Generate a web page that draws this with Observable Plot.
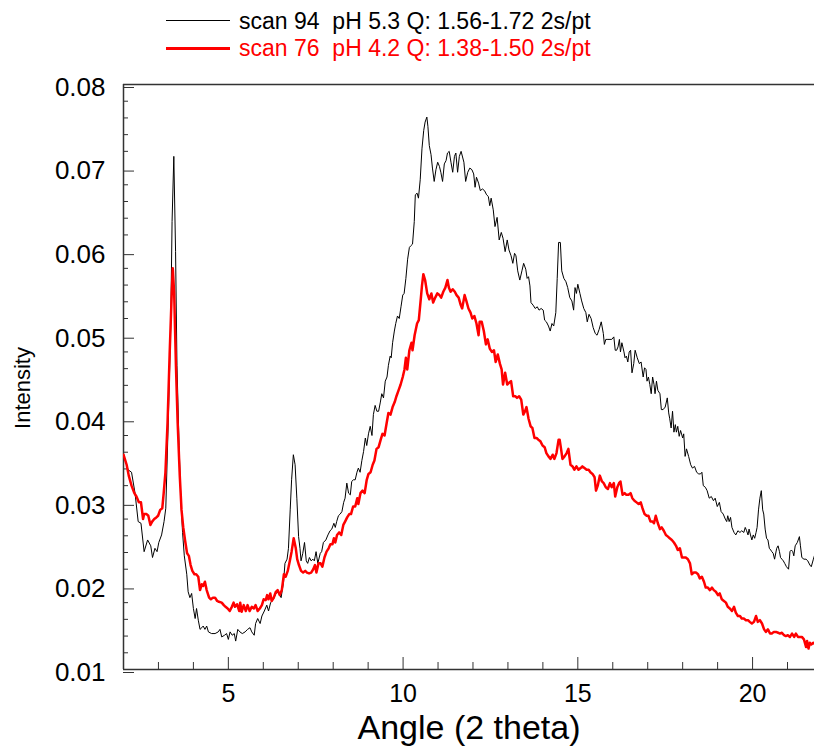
<!DOCTYPE html>
<html>
<head>
<meta charset="utf-8">
<script src="https://cdn.jsdelivr.net/npm/d3@7"></script>
<script src="https://cdn.jsdelivr.net/npm/@observablehq/plot@0.6"></script>
<style>
  html, body { margin: 0; padding: 0; background: #fff; overflow: hidden; }
  #wrap { position: relative; width: 814px; height: 747px; overflow: hidden; font-family: Arial, "Liberation Sans", sans-serif; }
  #legend { position: relative; width: 814px; height: 60px; }
  #chart { width: 830px; }
  #chart svg { display: block; max-width: none !important; width: 830px !important; height: 687px !important; }
  .sw { position: absolute; left: 166px; width: 64px; }
  .lt { position: absolute; left: 239px; font-size: 23px; line-height: 23px; white-space: pre; }
</style>
</head>
<body>
<div id="wrap">
  <div id="legend"></div>
  <div id="chart"></div>
</div>
<script>
// ---- Series labels / colours ----
const seriesNames = ["scan 94  pH 5.3 Q: 1.56-1.72 2s/pt", "scan 76  pH 4.2 Q: 1.38-1.50 2s/pt"];
const seriesColors = ["#000000", "#ff0000"];

// ---- Axis ticks ----
const xMajorTicks = [5, 10, 15, 20];
const xMinorTicks = [3, 4, 6, 7, 8, 9, 11, 12, 13, 14, 16, 17, 18, 19, 21];
const yMajorTicks = [0.01, 0.02, 0.03, 0.04, 0.05, 0.06, 0.07, 0.08];
const yMinorTicks = [0.012, 0.014, 0.016, 0.018, 0.022, 0.024, 0.026, 0.028, 0.032, 0.034, 0.036, 0.038,
  0.042, 0.044, 0.046, 0.048, 0.052, 0.054, 0.056, 0.058, 0.062, 0.064, 0.066, 0.068, 0.072, 0.074, 0.076, 0.078];
const xDomain = [2, 22.23];
const yDomain = [0.01, 0.08];

// ---- scan 94 (black) ----
const angle94 = [2.0, 2.13, 2.23, 2.33, 2.42, 2.50, 2.59, 2.69, 2.78, 2.83, 2.90, 2.96, 3.01, 3.09, 3.16, 3.21, 3.28, 3.35, 3.39, 3.44,
  3.49, 3.53, 3.59, 3.64, 3.69, 3.74, 3.81, 3.85, 3.90, 3.95, 4.00, 4.05, 4.09, 4.14, 4.19, 4.24, 4.28, 4.33, 4.38, 4.43,
  4.52, 4.62, 4.71, 4.76, 4.81, 4.89, 4.95, 5.00, 5.05, 5.11, 5.17, 5.21, 5.27, 5.33, 5.40, 5.48, 5.55, 5.62, 5.67, 5.74,
  5.78, 5.84, 5.91, 5.96, 6.03, 6.10, 6.15, 6.21, 6.29, 6.36, 6.43, 6.51, 6.58, 6.62, 6.68, 6.72, 6.77, 6.81, 6.86, 6.91,
  6.96, 7.01, 7.05, 7.08, 7.13, 7.18, 7.23, 7.27, 7.32, 7.37, 7.42, 7.46, 7.51, 7.56, 7.63, 7.67, 7.72, 7.79, 7.85, 7.91,
  7.96, 8.02, 8.06, 8.10, 8.15, 8.20, 8.25, 8.30, 8.34, 8.39, 8.44, 8.49, 8.53, 8.58, 8.63, 8.68, 8.72, 8.77, 8.82, 8.87,
  8.92, 8.96, 9.01, 9.06, 9.11, 9.15, 9.20, 9.25, 9.30, 9.35, 9.39, 9.44, 9.49, 9.54, 9.58, 9.63, 9.66, 9.70, 9.75, 9.79,
  9.84, 9.89, 9.94, 9.99, 10.03, 10.08, 10.13, 10.18, 10.22, 10.27, 10.32, 10.35, 10.40, 10.44, 10.49, 10.54, 10.59, 10.63, 10.68, 10.71,
  10.75, 10.80, 10.84, 10.89, 10.94, 10.99, 11.04, 11.08, 11.13, 11.18, 11.23, 11.27, 11.32, 11.37, 11.42, 11.47, 11.51, 11.56, 11.61,
  11.66, 11.74, 11.79, 11.85, 11.91, 11.97, 12.02, 12.06, 12.10, 12.16, 12.21, 12.27, 12.33, 12.39, 12.44, 12.48, 12.52, 12.58, 12.63,
  12.69, 12.75, 12.81, 12.86, 12.92, 12.98, 13.03, 13.09, 13.14, 13.19, 13.23, 13.28, 13.34, 13.40, 13.45, 13.51, 13.55, 13.59, 13.63,
  13.66, 13.72, 13.78, 13.84, 13.89, 13.95, 14.01, 14.05, 14.10, 14.16, 14.21, 14.26, 14.31, 14.37, 14.41, 14.45, 14.50, 14.54, 14.60,
  14.66, 14.71, 14.77, 14.83, 14.88, 14.92, 14.96, 15.00, 15.06, 15.11, 15.17, 15.23, 15.27, 15.32, 15.38, 15.44, 15.50, 15.55, 15.61,
  15.67, 15.73, 15.76, 15.80, 15.86, 15.92, 15.97, 16.03, 16.07, 16.11, 16.15, 16.19, 16.22, 16.26, 16.32, 16.35, 16.39, 16.43, 16.47,
  16.51, 16.55, 16.60, 16.64, 16.70, 16.76, 16.81, 16.87, 16.91, 16.95, 16.98, 17.02, 17.06, 17.10, 17.14, 17.18, 17.21, 17.25, 17.29,
  17.35, 17.39, 17.44, 17.50, 17.56, 17.60, 17.63, 17.67, 17.71, 17.75, 17.79, 17.82, 17.86, 17.90, 17.94, 18.00, 18.03, 18.07, 18.11,
  18.17, 18.23, 18.28, 18.34, 18.40, 18.46, 18.51, 18.55, 18.59, 18.65, 18.70, 18.76, 18.82, 18.88, 18.93, 18.99, 19.05, 19.10, 19.16,
  19.22, 19.26, 19.29, 19.33, 19.37, 19.41, 19.47, 19.52, 19.58, 19.64, 19.69, 19.75, 19.79, 19.83, 19.87, 19.90, 19.94, 19.98, 20.02,
  20.06, 20.10, 20.13, 20.17, 20.21, 20.25, 20.29, 20.32, 20.36, 20.40, 20.44, 20.48, 20.52, 20.55, 20.59, 20.63, 20.69, 20.73, 20.77,
  20.80, 20.84, 20.88, 20.92, 20.97, 21.03, 21.07, 21.11, 21.15, 21.18, 21.22, 21.28, 21.34, 21.37, 21.41, 21.47, 21.53, 21.58, 21.64,
  21.68, 21.74, 21.79];
const intensity94 = [0.0357, 0.0339, 0.0336, 0.0311, 0.0277, 0.0275, 0.0241, 0.0255, 0.0248, 0.0234, 0.0245, 0.0241, 0.0252, 0.0261, 0.0277, 0.0293, 0.0395, 0.0509, 0.0636, 0.0714,
  0.0600, 0.0464, 0.0368, 0.0305, 0.0264, 0.0236, 0.0214, 0.0193, 0.0186, 0.0191, 0.0173, 0.0161, 0.0173, 0.0159, 0.0148, 0.0150, 0.0152, 0.0148, 0.0152, 0.0145,
  0.0143, 0.0143, 0.0145, 0.0148, 0.0139, 0.0141, 0.0143, 0.0136, 0.0145, 0.0141, 0.0143, 0.0134, 0.0148, 0.0145, 0.0143, 0.0145, 0.0148, 0.0150, 0.0145, 0.0141,
  0.0155, 0.0161, 0.0155, 0.0164, 0.0170, 0.0177, 0.0170, 0.0180, 0.0184, 0.0191, 0.0193, 0.0186, 0.0205, 0.0227, 0.0232, 0.0245, 0.0291, 0.0327, 0.0357, 0.0345,
  0.0305, 0.0259, 0.0245, 0.0230, 0.0239, 0.0252, 0.0230, 0.0227, 0.0234, 0.0230, 0.0232, 0.0230, 0.0241, 0.0227, 0.0239, 0.0241, 0.0252, 0.0255, 0.0261, 0.0266,
  0.0268, 0.0275, 0.0270, 0.0277, 0.0284, 0.0286, 0.0289, 0.0300, 0.0305, 0.0323, 0.0311, 0.0309, 0.0325, 0.0327, 0.0327, 0.0336, 0.0341, 0.0336, 0.0350, 0.0361,
  0.0377, 0.0368, 0.0382, 0.0391, 0.0380, 0.0405, 0.0416, 0.0409, 0.0409, 0.0420, 0.0430, 0.0425, 0.0445, 0.0450, 0.0464, 0.0475, 0.0473, 0.0491, 0.0505, 0.0514,
  0.0523, 0.0520, 0.0534, 0.0548, 0.0550, 0.0568, 0.0591, 0.0605, 0.0607, 0.0609, 0.0636, 0.0668, 0.0670, 0.0664, 0.0686, 0.0723, 0.0745, 0.0755, 0.0761, 0.0750,
  0.0727, 0.0716, 0.0700, 0.0684, 0.0698, 0.0707, 0.0702, 0.0695, 0.0684, 0.0705, 0.0709, 0.0718, 0.0720, 0.0707, 0.0695, 0.0714, 0.0718, 0.0695, 0.0714,
  0.0720, 0.0707, 0.0684, 0.0695, 0.0700, 0.0698, 0.0693, 0.0677, 0.0689, 0.0682, 0.0673, 0.0675, 0.0673, 0.0668, 0.0666, 0.0655, 0.0664, 0.0650, 0.0630,
  0.0641, 0.0614, 0.0623, 0.0616, 0.0600, 0.0614, 0.0602, 0.0595, 0.0586, 0.0598, 0.0595, 0.0577, 0.0566, 0.0577, 0.0586, 0.0579, 0.0568, 0.0570, 0.0559,
  0.0539, 0.0536, 0.0532, 0.0534, 0.0530, 0.0532, 0.0530, 0.0518, 0.0516, 0.0511, 0.0505, 0.0514, 0.0511, 0.0527, 0.0568, 0.0611, 0.0611, 0.0577, 0.0568,
  0.0564, 0.0557, 0.0545, 0.0541, 0.0530, 0.0557, 0.0550, 0.0561, 0.0550, 0.0541, 0.0532, 0.0527, 0.0516, 0.0525, 0.0520, 0.0509, 0.0502, 0.0500, 0.0507,
  0.0516, 0.0502, 0.0489, 0.0495, 0.0495, 0.0495, 0.0495, 0.0498, 0.0482, 0.0482, 0.0486, 0.0495, 0.0480, 0.0491, 0.0480, 0.0473, 0.0475, 0.0468, 0.0480,
  0.0482, 0.0455, 0.0466, 0.0482, 0.0473, 0.0466, 0.0468, 0.0450, 0.0461, 0.0459, 0.0445, 0.0450, 0.0441, 0.0430, 0.0450, 0.0441, 0.0430, 0.0445, 0.0434,
  0.0430, 0.0411, 0.0411, 0.0414, 0.0425, 0.0407, 0.0400, 0.0389, 0.0409, 0.0384, 0.0393, 0.0384, 0.0391, 0.0379, 0.0386, 0.0377, 0.0382, 0.0355, 0.0364,
  0.0355, 0.0345, 0.0341, 0.0343, 0.0336, 0.0334, 0.0334, 0.0336, 0.0320, 0.0318, 0.0314, 0.0305, 0.0307, 0.0302, 0.0305, 0.0295, 0.0300, 0.0289, 0.0286,
  0.0280, 0.0277, 0.0284, 0.0277, 0.0282, 0.0270, 0.0264, 0.0261, 0.0266, 0.0264, 0.0266, 0.0264, 0.0270, 0.0266, 0.0261, 0.0268, 0.0261, 0.0255, 0.0261,
  0.0257, 0.0264, 0.0270, 0.0291, 0.0305, 0.0314, 0.0291, 0.0286, 0.0268, 0.0257, 0.0255, 0.0245, 0.0243, 0.0241, 0.0239, 0.0232, 0.0245, 0.0248, 0.0241,
  0.0234, 0.0232, 0.0230, 0.0227, 0.0223, 0.0220, 0.0241, 0.0243, 0.0241, 0.0236, 0.0248, 0.0252, 0.0259, 0.0248, 0.0234, 0.0232, 0.0232, 0.0230, 0.0225,
  0.0223, 0.0232, 0.0239];

// ---- scan 76 (red) ----
const angle76 = [2.0, 2.09, 2.15, 2.23, 2.31, 2.37, 2.44, 2.50, 2.56, 2.59, 2.66, 2.71, 2.77, 2.82, 2.88, 2.94, 2.99, 3.05, 3.11, 3.15,
  3.20, 3.26, 3.32, 3.38, 3.41, 3.45, 3.50, 3.55, 3.61, 3.66, 3.71, 3.76, 3.82, 3.87, 3.92, 3.97, 4.03, 4.08, 4.14, 4.19,
  4.24, 4.28, 4.33, 4.38, 4.45, 4.50, 4.56, 4.62, 4.68, 4.73, 4.81, 4.87, 4.92, 4.98, 5.04, 5.10, 5.15, 5.19, 5.25, 5.31,
  5.34, 5.38, 5.44, 5.50, 5.55, 5.61, 5.67, 5.73, 5.78, 5.84, 5.90, 5.96, 6.01, 6.07, 6.11, 6.15, 6.20, 6.24, 6.30, 6.36,
  6.41, 6.47, 6.53, 6.59, 6.64, 6.70, 6.76, 6.81, 6.87, 6.93, 6.97, 7.02, 7.08, 7.14, 7.20, 7.25, 7.31, 7.37, 7.43, 7.48,
  7.52, 7.58, 7.64, 7.69, 7.75, 7.81, 7.87, 7.92, 7.98, 8.02, 8.06, 8.11, 8.17, 8.23, 8.29, 8.34, 8.40, 8.46, 8.51, 8.57,
  8.63, 8.69, 8.72, 8.78, 8.84, 8.90, 8.96, 9.01, 9.07, 9.13, 9.18, 9.24, 9.30, 9.36, 9.41, 9.47, 9.53, 9.58, 9.64, 9.70,
  9.76, 9.81, 9.87, 9.93, 9.99, 10.04, 10.08, 10.12, 10.18, 10.24, 10.27, 10.33, 10.40, 10.45, 10.51, 10.54, 10.58, 10.63, 10.69, 10.75,
  10.81, 10.86, 10.92, 10.98, 11.04, 11.09, 11.15, 11.21, 11.27, 11.31, 11.36, 11.42, 11.48, 11.53, 11.59, 11.65, 11.69,
  11.76, 11.81, 11.87, 11.93, 11.98, 12.04, 12.10, 12.16, 12.19, 12.25, 12.31, 12.37, 12.42, 12.48, 12.54, 12.60, 12.65, 12.71, 12.77,
  12.82, 12.86, 12.92, 12.98, 13.03, 13.09, 13.15, 13.21, 13.26, 13.32, 13.38, 13.44, 13.49, 13.53, 13.59, 13.65, 13.70, 13.76, 13.82,
  13.87, 13.93, 13.99, 14.05, 14.10, 14.16, 14.22, 14.28, 14.33, 14.39, 14.45, 14.48, 14.52, 14.56, 14.62, 14.68, 14.73, 14.79, 14.85,
  14.90, 14.96, 15.02, 15.08, 15.13, 15.19, 15.25, 15.31, 15.36, 15.42, 15.48, 15.52, 15.57, 15.63, 15.69, 15.74, 15.80, 15.86, 15.92,
  15.97, 16.03, 16.07, 16.13, 16.18, 16.22, 16.28, 16.34, 16.39, 16.45, 16.51, 16.56, 16.62, 16.68, 16.74, 16.80, 16.85, 16.91, 16.97,
  17.02, 17.08, 17.14, 17.18, 17.23, 17.29, 17.35, 17.40, 17.46, 17.52, 17.58, 17.63, 17.69, 17.75, 17.81, 17.86, 17.92, 17.98, 18.03,
  18.09, 18.15, 18.21, 18.26, 18.32, 18.38, 18.44, 18.49, 18.55, 18.61, 18.66, 18.72, 18.78, 18.84, 18.89, 18.95, 19.01, 19.06, 19.12,
  19.18, 19.24, 19.29, 19.35, 19.41, 19.47, 19.52, 19.58, 19.64, 19.69, 19.75, 19.81, 19.87, 19.92, 19.98, 20.04, 20.10, 20.15, 20.21,
  20.27, 20.33, 20.38, 20.44, 20.50, 20.55, 20.61, 20.67, 20.73, 20.78, 20.84, 20.90, 20.95, 21.01, 21.07, 21.13, 21.19, 21.24, 21.30,
  21.36, 21.41, 21.47, 21.53, 21.56, 21.60, 21.64, 21.68, 21.74, 21.79];
const intensity76 = [0.0357, 0.0345, 0.0332, 0.0320, 0.0311, 0.0307, 0.0300, 0.0300, 0.0280, 0.0286, 0.0286, 0.0284, 0.0273, 0.0277, 0.0280, 0.0282, 0.0284, 0.0291, 0.0293, 0.0311,
  0.0336, 0.0395, 0.0477, 0.0550, 0.0580, 0.0550, 0.0464, 0.0395, 0.0332, 0.0291, 0.0270, 0.0255, 0.0239, 0.0236, 0.0225, 0.0218, 0.0214, 0.0214, 0.0211, 0.0195,
  0.0202, 0.0200, 0.0205, 0.0195, 0.0186, 0.0184, 0.0186, 0.0186, 0.0182, 0.0181, 0.0180, 0.0177, 0.0175, 0.0173, 0.0170, 0.0175, 0.0180, 0.0175, 0.0178, 0.0170,
  0.0180, 0.0169, 0.0177, 0.0170, 0.0177, 0.0170, 0.0175, 0.0173, 0.0177, 0.0170, 0.0173, 0.0177, 0.0184, 0.0183, 0.0189, 0.0184, 0.0191, 0.0182, 0.0186, 0.0193,
  0.0195, 0.0189, 0.0195, 0.0214, 0.0211, 0.0218, 0.0230, 0.0241, 0.0257, 0.0245, 0.0232, 0.0225, 0.0218, 0.0216, 0.0218, 0.0216, 0.0215, 0.0216, 0.0220, 0.0225,
  0.0216, 0.0227, 0.0227, 0.0223, 0.0234, 0.0241, 0.0245, 0.0250, 0.0250, 0.0257, 0.0252, 0.0261, 0.0264, 0.0261, 0.0273, 0.0277, 0.0282, 0.0286, 0.0286, 0.0295,
  0.0295, 0.0305, 0.0298, 0.0311, 0.0314, 0.0311, 0.0327, 0.0334, 0.0336, 0.0345, 0.0350, 0.0364, 0.0366, 0.0375, 0.0382, 0.0380, 0.0395, 0.0407, 0.0405, 0.0414,
  0.0420, 0.0427, 0.0434, 0.0441, 0.0450, 0.0459, 0.0473, 0.0459, 0.0482, 0.0491, 0.0482, 0.0500, 0.0514, 0.0518, 0.0545, 0.0559, 0.0573, 0.0566, 0.0550, 0.0543,
  0.0550, 0.0539, 0.0545, 0.0550, 0.0548, 0.0545, 0.0552, 0.0557, 0.0566, 0.0557, 0.0552, 0.0555, 0.0552, 0.0548, 0.0545, 0.0536, 0.0532,
  0.0548, 0.0541, 0.0532, 0.0527, 0.0520, 0.0523, 0.0514, 0.0500, 0.0516, 0.0516, 0.0505, 0.0489, 0.0495, 0.0484, 0.0480, 0.0482, 0.0468, 0.0477, 0.0466,
  0.0459, 0.0441, 0.0455, 0.0441, 0.0443, 0.0445, 0.0427, 0.0427, 0.0425, 0.0427, 0.0423, 0.0405, 0.0409, 0.0414, 0.0400, 0.0391, 0.0389, 0.0377, 0.0377,
  0.0375, 0.0373, 0.0368, 0.0366, 0.0359, 0.0355, 0.0352, 0.0357, 0.0352, 0.0359, 0.0375, 0.0375, 0.0364, 0.0352, 0.0355, 0.0359, 0.0364, 0.0345, 0.0343,
  0.0339, 0.0343, 0.0339, 0.0341, 0.0343, 0.0341, 0.0339, 0.0339, 0.0336, 0.0334, 0.0330, 0.0314, 0.0320, 0.0332, 0.0325, 0.0323, 0.0318, 0.0316, 0.0323,
  0.0318, 0.0323, 0.0307, 0.0318, 0.0323, 0.0325, 0.0309, 0.0311, 0.0309, 0.0309, 0.0311, 0.0305, 0.0302, 0.0300, 0.0298, 0.0300, 0.0293, 0.0286, 0.0284,
  0.0284, 0.0277, 0.0277, 0.0275, 0.0284, 0.0275, 0.0268, 0.0270, 0.0266, 0.0261, 0.0259, 0.0257, 0.0255, 0.0252, 0.0248, 0.0243, 0.0245, 0.0234, 0.0234,
  0.0234, 0.0232, 0.0227, 0.0214, 0.0216, 0.0216, 0.0214, 0.0209, 0.0211, 0.0205, 0.0198, 0.0198, 0.0195, 0.0198, 0.0195, 0.0193, 0.0189, 0.0191, 0.0184,
  0.0182, 0.0180, 0.0175, 0.0173, 0.0170, 0.0175, 0.0168, 0.0164, 0.0164, 0.0161, 0.0161, 0.0159, 0.0159, 0.0157, 0.0155, 0.0157, 0.0164, 0.0157, 0.0159,
  0.0155, 0.0148, 0.0145, 0.0148, 0.0143, 0.0143, 0.0145, 0.0145, 0.0144, 0.0143, 0.0144, 0.0141, 0.0140, 0.0141, 0.0139, 0.0143, 0.0139, 0.0143, 0.0139,
  0.0139, 0.0139, 0.0136, 0.0127, 0.0134, 0.0125, 0.0132, 0.0130, 0.0132, 0.0130];

// ---- Legend (HTML, above the SVG) ----
const legend = document.getElementById("legend");
const rows = [{top: 10, line: 20, w: 1}, {top: 37, line: 47, w: 2.5}];
seriesNames.forEach((name, i) => {
  const sw = document.createElement("div");
  sw.className = "sw";
  sw.style.top = rows[i].line + "px";
  sw.style.height = rows[i].w + "px";
  sw.style.background = seriesColors[i];
  legend.appendChild(sw);
  const t = document.createElement("div");
  t.className = "lt";
  t.style.top = rows[i].top + "px";
  t.style.color = seriesColors[i];
  t.textContent = name;
  legend.appendChild(t);
});

const axisColor = "#333";
const chart = Plot.plot({
  width: 830,
  height: 687,
  marginLeft: 123,
  marginRight: 0,
  marginTop: 24,
  marginBottom: 78,
  x: {domain: xDomain, label: null},
  y: {domain: yDomain, label: null},
  style: {fontFamily: "Arial, 'Liberation Sans', sans-serif", background: "#fff", color: "#000", maxWidth: "none"},
  marks: [
    // minor ticks (inward)
    Plot.axisY(yMinorTicks, {anchor: "left", tickSize: -5, tickFormat: () => "", stroke: axisColor, label: null}),
    Plot.axisX(xMinorTicks, {anchor: "bottom", tickSize: -7, tickFormat: () => "", stroke: axisColor, label: null}),
    // major ticks + labels
    Plot.axisY(yMajorTicks, {anchor: "left", tickSize: -11, tickPadding: 29, tickFormat: d3.format(".2f"), fontSize: 26, dy: 3, stroke: axisColor, fill: "#000", label: null}),
    Plot.axisX(xMajorTicks, {anchor: "bottom", tickSize: -12, tickPadding: 27, tickFormat: d => String(d), fontSize: 25, stroke: axisColor, fill: "#000", label: null}),
    // frame lines: left, bottom, top
    Plot.ruleX([xDomain[0]], {stroke: axisColor, strokeWidth: 1.5}),
    Plot.ruleY(yDomain, {stroke: axisColor, strokeWidth: 1.5}),
    // data
    Plot.line({length: angle94.length}, {x: angle94, y: intensity94, stroke: seriesColors[0], strokeWidth: 1, clip: true}),
    Plot.line({length: angle76.length}, {x: angle76, y: intensity76, stroke: seriesColors[1], strokeWidth: 2.5, clip: true}),
    // axis titles
    Plot.text(["Angle (2 theta)"], {frameAnchor: "bottom", dx: -8, dy: 59, fontSize: 34, textAnchor: "middle", lineAnchor: "middle", fill: "#000"}),
    Plot.text(["Intensity"], {frameAnchor: "left", rotate: -90, dx: -101, dy: 11, fontSize: 22, textAnchor: "middle", lineAnchor: "middle", fill: "#000"})
  ]
});
document.getElementById("chart").appendChild(chart);
</script>
</body>
</html>
